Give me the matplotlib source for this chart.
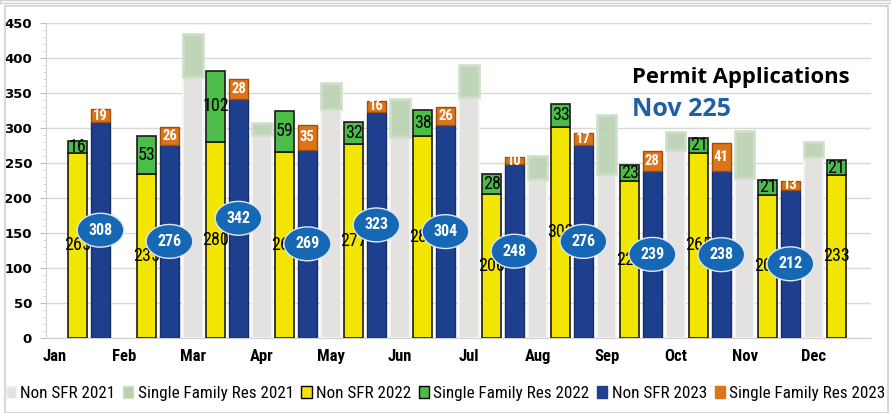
import matplotlib
matplotlib.use("Agg")
import matplotlib.pyplot as plt
from matplotlib.patches import Patch, Rectangle
from matplotlib import font_manager
import numpy as np

months = ["Jan", "Feb", "Mar", "Apr", "May", "Jun", "Jul", "Aug", "Sep", "Oct", "Nov", "Dec"]
non_sfr_2021 = [np.nan, np.nan, 373, 290, 327, 287, 345, 227, 235, 268, 228, 259]
sfr_2021 = [np.nan, np.nan, 61, 17, 38, 55, 45, 33, 84, 27, 68, 21]
non_sfr_2022 = [265, 235, 280, 266, 277, 288, 206, 302, 224, 265, 205, 233]
sfr_2022 = [16, 53, 102, 59, 32, 38, 28, 33, 23, 21, 21, 21]
non_sfr_2023 = [308, 276, 342, 269, 323, 304, 248, 276, 239, 238, 212, np.nan]
sfr_2023 = [19, 26, 28, 35, 16, 26, 10, 17, 28, 41, 13, np.nan]

names = {f.name for f in font_manager.fontManager.ttflist}
cond = [n for n in ["Roboto Condensed", "Liberation Sans Narrow", "Open Sans Condensed",
                    "DejaVu Sans Condensed"] if n in names]
FONT = cond[:1] + ["DejaVu Sans"]
NARROW = bool(cond)
plt.rcParams["font.family"] = FONT

fig = plt.figure(figsize=(8.91, 4.13), dpi=100)
ax = fig.add_axes([0.0516, 0.1816, 0.9260, 0.7627])

# outer frame
fig.patches.append(Rectangle((0.006, 0.0), 0.991, 0.985, transform=fig.transFigure,
                             fill=False, edgecolor="#d0d0d0", lw=1.2))
fig.patches.append(Rectangle((0.0, 0.992), 1.0, 0.008, transform=fig.transFigure,
                             fill=False, edgecolor="#d0d0d0", lw=1.0))

x = np.arange(len(months))
w = 0.28
o22, o23 = 0.33, 0.66

c_gray = "#e4e1e1"
c_lgreen = "#b9d1b1"
c_yellow = "#f2e600"
c_green = "#4dbd4a"
c_blue = "#1e3f8e"
c_orange = "#dd7418"
c_ell = "#1668b5"

n21 = np.array(non_sfr_2021, float)
s21 = np.array(sfr_2021, float)
n22 = np.array(non_sfr_2022, float)
s22 = np.array(sfr_2022, float)
n23 = np.array(non_sfr_2023, float)
s23 = np.array(sfr_2023, float)

ax.bar(x, n21, w, color=c_gray, edgecolor="#f4f4f4", lw=1.5, zorder=2)
ax.bar(x, s21, w, bottom=n21, color=c_lgreen, edgecolor="#cfdec9", lw=2, alpha=0.9, zorder=2)

ax.bar(x + o22, n22, w, color=c_yellow, edgecolor="#1a1a1a", lw=1.2, zorder=3)
ax.bar(x + o22, s22, w, bottom=n22, color=c_green, edgecolor="#1a1a1a", lw=1.2, zorder=3)

lfs = 13 if NARROW else 10.5
for i in range(len(months)):
    ax.text(x[i] + o22, n22[i] / 2, f"{int(n22[i])}", ha="center", va="center",
            fontsize=lfs, color="black", zorder=3.5)
    ax.text(x[i] + o22, n22[i] + s22[i] / 2, f"{int(s22[i])}", ha="center", va="center",
            fontsize=lfs, color="black", zorder=3.6)

ax.bar(x + o23, n23, w, color=c_blue, edgecolor="#162e66", lw=1.0, zorder=4)
ax.bar(x + o23, s23, w, bottom=n23, color=c_orange, edgecolor="#a04f0c", lw=1.0, zorder=4)

for i in range(len(months)):
    if np.isnan(n23[i]):
        continue
    ax.text(x[i] + o23, n23[i] + s23[i] / 2, f"{int(s23[i])}", ha="center", va="center",
            fontsize=10.5, color="white", fontweight="bold", zorder=4.5)
    ax.text(x[i] + o23, n23[i] / 2, f"{int(n23[i])}", ha="center", va="center",
            fontsize=11.5, color="white", fontweight="bold", zorder=5,
            bbox=dict(boxstyle="ellipse,pad=0.28", fc=c_ell, ec="#dfe8f3", lw=1.0))

ax.set_xlim(-0.13, 11.83)
ax.set_ylim(0, 450)
ax.set_yticks(np.arange(0, 451, 50))
ax.set_yticks(np.arange(0, 451, 10), minor=True)
ax.yaxis.grid(True, which="major", color="#d9d9d9", lw=1.0, zorder=0)
ax.set_axisbelow(True)
ax.set_xticks(x)
ax.set_xticklabels(months, fontsize=12 if NARROW else 10, fontweight="bold")
ax.tick_params(axis="x", length=0, pad=8)
ax.tick_params(axis="y", which="major", length=4, color="#bbbbbb", pad=6)
ax.tick_params(axis="y", which="minor", length=2, color="#cccccc")
for lab in ax.get_yticklabels():
    lab.set_fontweight("bold")
    lab.set_fontsize(9.5)
    lab.set_family(["DejaVu Sans"])
for s in ["top", "right"]:
    ax.spines[s].set_visible(False)
ax.spines["left"].set_color("#d0d0d0")
ax.spines["bottom"].set_color("#d0d0d0")

fig.text(0.709, 0.800, "Permit Applications", fontsize=15.8, fontweight="bold",
         color="black", family=["Open Sans", "DejaVu Sans"])
fig.text(0.709, 0.718, "Nov 225", fontsize=18, fontweight="bold",
         color="#1e5fa8", family=["Open Sans", "DejaVu Sans"])

handles = [
    Patch(fc=c_gray, ec="#f4f4f4", label="Non SFR 2021"),
    Patch(fc=c_lgreen, ec="#cfdec9", label="Single Family Res 2021"),
    Patch(fc=c_yellow, ec="black", label="Non SFR 2022"),
    Patch(fc=c_green, ec="black", label="Single Family Res 2022"),
    Patch(fc=c_blue, ec=c_blue, label="Non SFR 2023"),
    Patch(fc=c_orange, ec=c_orange, label="Single Family Res 2023"),
]
fig.legend(handles=handles, loc="center", bbox_to_anchor=(0.5, 0.048), ncol=6,
           frameon=False, fontsize=12.3 if NARROW else 9.3, handlelength=0.6, handleheight=0.7,
           handletextpad=0.25, columnspacing=0.45)

fig.savefig("out.png", dpi=100)
